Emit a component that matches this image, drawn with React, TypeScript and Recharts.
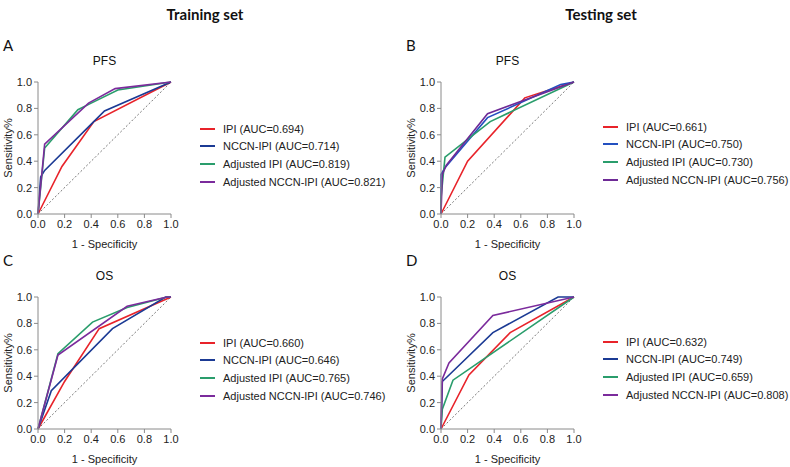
import React from "react";
import { LineChart, Line, XAxis, YAxis } from "recharts";

// ROC points as [1 - specificity, sensitivity]
const trainPfsIpi = [[0, 0], [0.18, 0.36], [0.42, 0.7], [1, 1]];
const trainPfsNccn = [[0, 0], [0.02, 0.28], [0.05, 0.33], [0.41, 0.69], [0.5, 0.78], [1, 1]];
const trainPfsAdjIpi = [[0, 0], [0.05, 0.5], [0.3, 0.79], [0.4, 0.84], [0.6, 0.94], [1, 1]];
const trainPfsAdjNccn = [[0, 0], [0.05, 0.53], [0.38, 0.84], [0.58, 0.95], [1, 1]];

const testPfsIpi = [[0, 0], [0.2, 0.4], [0.63, 0.88], [1, 1]];
const testPfsNccn = [[0, 0], [0, 0.3], [0.03, 0.35], [0.35, 0.73], [0.9, 0.98], [1, 1]];
const testPfsAdjIpi = [[0, 0], [0, 0.12], [0.03, 0.43], [0.37, 0.7], [1, 1]];
const testPfsAdjNccn = [[0, 0], [0.01, 0.3], [0.04, 0.37], [0.35, 0.76], [1, 1]];

const trainOsIpi = [[0, 0], [0.2, 0.36], [0.46, 0.76], [1, 1]];
const trainOsNccn = [[0, 0], [0.1, 0.29], [0.56, 0.76], [0.96, 1], [1, 1]];
const trainOsAdjIpi = [[0, 0], [0.15, 0.57], [0.41, 0.81], [0.67, 0.92], [0.97, 1], [1, 1]];
const trainOsAdjNccn = [[0, 0], [0.15, 0.56], [0.67, 0.93], [0.97, 1], [1, 1]];

const testOsIpi = [[0, 0], [0.21, 0.41], [0.52, 0.73], [1, 1]];
const testOsNccn = [[0, 0], [0.01, 0.36], [0.39, 0.73], [0.88, 1], [1, 1]];
const testOsAdjIpi = [[0, 0], [0.01, 0.15], [0.09, 0.37], [1, 1]];
const testOsAdjNccn = [[0, 0], [0.01, 0.38], [0.06, 0.5], [0.39, 0.86], [1, 1]];

const diagonal = [[0, 0], [1, 1]];
const ticks = [0, 0.2, 0.4, 0.6, 0.8, 1.0];

const seriesNames = ["IPI", "NCCN-IPI", "Adjusted IPI", "Adjusted NCCN-IPI"];
const colors = ["#e8232a", "#1b3a94", "#2a9d6c", "#7b2b9c"];
const testPfsColors = ["#e8232a", "#2350c0", "#2a9d6c", "#6e2a96"];

const trainPfsAuc = ["0.694", "0.714", "0.819", "0.821"];
const testPfsAuc = ["0.661", "0.750", "0.730", "0.756"];
const trainOsAuc = ["0.660", "0.646", "0.765", "0.746"];
const testOsAuc = ["0.632", "0.749", "0.659", "0.808"];

const toPts = (arr: number[][]) => arr.map(([x, y]) => ({ x, y }));

const AX = "#8a8a8a";
const FONT = "'Liberation Sans', Arial, sans-serif";

interface PanelProps {
  left: number;
  top: number;
  letter: string;
  title: string;
  curves: number[][][];
  lineColors: string[];
  auc: string[];
  legendTop: number;
}

function RocPanel({ left, top, letter, title, curves, lineColors, auc, legendTop }: PanelProps) {
  return (
    <>
      <div style={{ position: "absolute", left: left + 3, top: top - 19, fontFamily: "Lato, sans-serif", fontSize: 15, color: "#111" }}>
        {letter}
      </div>
      <div style={{ position: "absolute", left: left + 38, width: 133, top: top - 1, textAlign: "center", fontFamily: FONT, fontSize: 12, color: "#111" }}>
        {title}
      </div>
      <div style={{ position: "absolute", left, top }}>
        <LineChart width={180} height={199} margin={{ top: 27, right: 9, left: 0, bottom: 6 }}>
          <XAxis
            type="number"
            dataKey="x"
            domain={[0, 1]}
            ticks={ticks}
            tickFormatter={(v) => v.toFixed(1)}
            height={34}
            stroke={AX}
            tickSize={4}
            tickMargin={2}
            tick={{ fontSize: 11, fill: "#222", fontFamily: FONT }}
            label={{ value: "1 - Specificity", position: "insideBottom", offset: 0, style: { fontSize: 11, fill: "#222", fontFamily: FONT } }}
          />
          <YAxis
            type="number"
            domain={[0, 1]}
            ticks={ticks}
            tickFormatter={(v) => v.toFixed(1)}
            width={38}
            stroke={AX}
            tickSize={4}
            tickMargin={2}
            tick={{ fontSize: 11, fill: "#222", fontFamily: FONT }}
            label={{ value: "Sensitivity%", angle: -90, position: "insideLeft", offset: 8, style: { textAnchor: "middle", fontSize: 11, fill: "#222", fontFamily: FONT } }}
          />
          <Line
            data={toPts(diagonal)}
            dataKey="y"
            stroke="#555"
            strokeWidth={0.8}
            strokeDasharray="2 2"
            dot={false}
            isAnimationActive={false}
          />
          {curves.map((c, i) => (
            <Line
              key={i}
              data={toPts(c)}
              dataKey="y"
              stroke={lineColors[i]}
              strokeWidth={1.6}
              dot={false}
              type="linear"
              isAnimationActive={false}
            />
          ))}
        </LineChart>
      </div>
      <div style={{ position: "absolute", left: left + 200, top: legendTop, fontFamily: FONT, fontSize: 11, color: "#222" }}>
        {seriesNames.map((n, i) => (
          <div key={n} style={{ display: "flex", alignItems: "center", height: 17.6, whiteSpace: "nowrap" }}>
            <span style={{ display: "inline-block", width: 15, height: 2, background: lineColors[i], marginRight: 8 }} />
            {n} (AUC={auc[i]})
          </div>
        ))}
      </div>
    </>
  );
}

export default function App() {
  return (
    <div style={{ position: "absolute", left: 0, top: 0, width: 790, height: 467, background: "#fff", overflow: "hidden" }}>
      <div style={{ position: "absolute", left: 150, width: 110, top: 5, textAlign: "center", fontFamily: "Lato, sans-serif", fontWeight: 700, fontSize: 15, color: "#111" }}>
        Training set
      </div>
      <div style={{ position: "absolute", left: 546, width: 110, top: 5, textAlign: "center", fontFamily: "Lato, sans-serif", fontWeight: 700, fontSize: 15, color: "#111" }}>
        Testing set
      </div>
      <RocPanel
        left={0}
        top={55}
        letter="A"
        title="PFS"
        curves={[trainPfsIpi, trainPfsNccn, trainPfsAdjIpi, trainPfsAdjNccn]}
        lineColors={colors}
        auc={trainPfsAuc}
        legendTop={120}
      />
      <RocPanel
        left={403}
        top={55}
        letter="B"
        title="PFS"
        curves={[testPfsIpi, testPfsNccn, testPfsAdjIpi, testPfsAdjNccn]}
        lineColors={testPfsColors}
        auc={testPfsAuc}
        legendTop={118}
      />
      <RocPanel
        left={0}
        top={270}
        letter="C"
        title="OS"
        curves={[trainOsIpi, trainOsNccn, trainOsAdjIpi, trainOsAdjNccn]}
        lineColors={colors}
        auc={trainOsAuc}
        legendTop={334}
      />
      <RocPanel
        left={403}
        top={270}
        letter="D"
        title="OS"
        curves={[testOsIpi, testOsNccn, testOsAdjIpi, testOsAdjNccn]}
        lineColors={colors}
        auc={testOsAuc}
        legendTop={333}
      />
    </div>
  );
}
